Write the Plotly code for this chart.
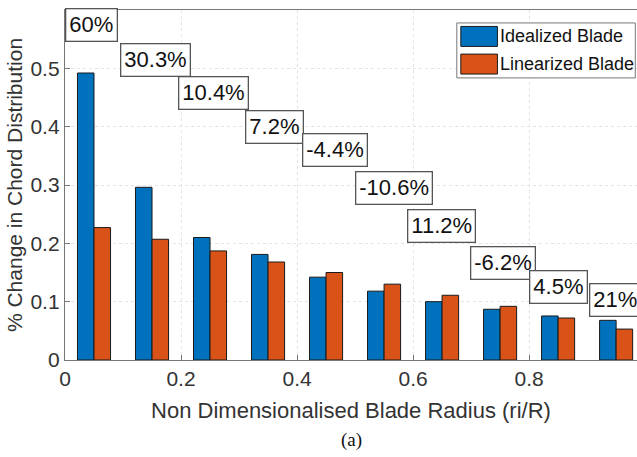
import plotly.graph_objects as go

radius = [0.05, 0.15, 0.25, 0.35, 0.45, 0.55, 0.65, 0.75, 0.85, 0.95]
idealized = [0.492, 0.296, 0.210, 0.181, 0.142, 0.118, 0.100, 0.087, 0.0755, 0.068]
linearized = [0.227, 0.207, 0.187, 0.168, 0.150, 0.130, 0.111, 0.092, 0.072, 0.053]
pct_labels = ["60%", "30.3%", "10.4%", "7.2%", "-4.4%", "-10.6%", "11.2%", "-6.2%", "4.5%", "21%"]
label_x = [0.0, 0.095, 0.195, 0.31, 0.409, 0.50, 0.59, 0.698, 0.80, 0.904]
label_y = [0.574, 0.515, 0.458, 0.40, 0.36, 0.295, 0.23, 0.166, 0.125, 0.103]
series_names = ["Idealized Blade", "Linearized Blade"]
series_colors = ["#0072BD", "#D95319"]

SANS = "Liberation Sans, Arial, Helvetica"
fig = go.Figure()
for name, vals, col in zip(series_names, [idealized, linearized], series_colors):
    fig.add_trace(go.Bar(x=radius, y=vals, name=name,
                         marker=dict(color=col, line=dict(color="#1a1a1a", width=1))))

for t, x, y in zip(pct_labels, label_x, label_y):
    fig.add_annotation(x=x, y=y, xref="x", yref="y", text=t, showarrow=False,
                       xanchor="left", yanchor="middle",
                       font=dict(family=SANS, size=22, color="#111"),
                       bordercolor="#555", borderwidth=1.3, borderpad=3, bgcolor="white")

# custom legend (wide swatches like the original)
fig.add_shape(type="rect", xref="paper", yref="paper", x0=0.685, x1=0.997, y0=0.806, y1=0.963,
              line=dict(color="#777", width=1), fillcolor="white", layer="above")
sw_y = [(0.953, 0.896), (0.874, 0.817)]
for (y1, y0), name, col in zip(sw_y, series_names, series_colors):
    fig.add_shape(type="rect", xref="paper", yref="paper", x0=0.692, x1=0.756, y0=y0, y1=y1,
                  line=dict(color="#1a1a1a", width=1), fillcolor=col, layer="above")
    fig.add_annotation(x=0.757, y=(y0 + y1) / 2, xref="paper", yref="paper", text=name,
                       showarrow=False, xanchor="left", yanchor="middle",
                       font=dict(family=SANS, size=18, color="#111"))

fig.add_annotation(x=0.5, y=-0.229, xref="paper", yref="paper", text="(a)", showarrow=False,
                   font=dict(family="Liberation Serif, Times New Roman", size=19, color="#111"),
                   xanchor="center", yanchor="middle")

axis_common = dict(showline=True, linecolor="#777", linewidth=1.3, mirror=True,
                   ticks="inside", ticklen=5, tickcolor="#777",
                   showgrid=True, gridcolor="#e3e3e3", griddash="dot", gridwidth=1,
                   zeroline=False,
                   tickfont=dict(family=SANS, size=21, color="#333"))

fig.update_layout(
    width=637, height=457,
    margin=dict(l=65, r=0, t=10, b=97),
    plot_bgcolor="white", paper_bgcolor="white",
    barmode="group", bargap=0.43, bargroupgap=0,
    font=dict(family=SANS, color="#333"),
    xaxis=dict(range=[0, 0.986], tickvals=[0, 0.2, 0.4, 0.6, 0.8],
               ticktext=["0", "0.2", "0.4", "0.6", "0.8"],
               title=dict(text="Non Dimensionalised Blade Radius (ri/R)",
                          font=dict(family=SANS, size=22, color="#333"), standoff=13),
               **axis_common),
    yaxis=dict(range=[0, 0.6], tickvals=[0, 0.1, 0.2, 0.3, 0.4, 0.5, 0.6],
               ticktext=["0", "0.1", "0.2", "0.3", "0.4", "0.5", "0.6"],
               title=dict(text="% Change in Chord Distribution",
                          font=dict(family=SANS, size=21, color="#333"), standoff=2),
               **axis_common),
    showlegend=False,
)

fig.write_html("out.html")
